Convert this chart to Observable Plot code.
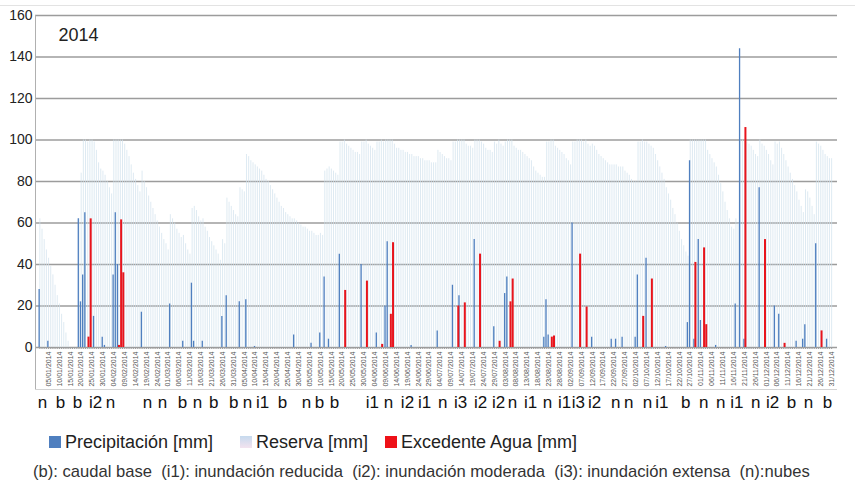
<!DOCTYPE html>
<html>
<head>
<meta charset="utf-8">
<script src="https://cdn.jsdelivr.net/npm/d3@7"></script>
<script src="https://cdn.jsdelivr.net/npm/@observablehq/plot@0.6"></script>
<style>
  body { margin: 0; background: #fff; font-family: "Liberation Sans", Arial, sans-serif; }
  #wrap { position: relative; width: 855px; height: 494px; overflow: hidden; }
  #topline { position: absolute; left: 0; top: 5px; width: 855px; height: 1px; background: #e3e3e3; }
  #chart { position: absolute; left: 0; top: 0; }
  #legend { position: absolute; left: 0; top: 432px; width: 855px; height: 20px; font-size: 18px; color: #222; white-space: nowrap; }
  #legend .item { position: absolute; top: 0; height: 20px; display: flex; align-items: center; }
  #legend .sw { width: 12px; height: 12px; margin-right: 4px; }
  #caption { position: absolute; left: 33px; top: 462px; font-size: 16.6px; line-height: 20px; color: #333; white-space: pre; }
</style>
</head>
<body>
<div id="wrap">
  <div id="topline"></div>
  <div id="chart"></div>
  <div id="legend"></div>
  <div id="caption"></div>
</div>
<script>
// Daily water balance, year 2014 (day-of-year 1..365)

// Reserva [mm], one value per day
const reserva = [
  62, 57, 52, 47, 43, 39, 35, 30, 25, 21,
  16, 12, 7, 3, 0, 0, 0, 0, 62, 84,
  100, 100, 99, 100, 100, 99, 95, 89, 86, 85,
  83, 80, 77, 74, 100, 100, 100, 100, 100, 98,
  95, 92, 88, 84, 81, 78, 75, 85, 80, 77,
  73, 70, 67, 64, 61, 58, 55, 52, 50, 47,
  64, 62, 60, 57, 55, 53, 54, 50, 47, 45,
  67, 68, 66, 63, 61, 62, 58, 56, 53, 51,
  49, 47, 45, 42, 52, 50, 72, 70, 68, 66,
  64, 63, 77, 76, 75, 93, 92, 90, 89, 88,
  87, 86, 85, 83, 81, 80, 78, 76, 74, 72,
  70, 68, 67, 65, 64, 63, 62, 62, 61, 60,
  59, 58, 58, 57, 56, 56, 55, 54, 54, 55,
  54, 85, 86, 87, 86, 85, 84, 83, 99, 99,
  100, 98, 97, 96, 95, 94, 94, 93, 99, 99,
  100, 98, 97, 96, 95, 99, 99, 100, 99, 100,
  100, 100, 100, 98, 96, 96, 95, 95, 94, 94,
  93, 93, 92, 92, 92, 91, 91, 90, 90, 90,
  89, 89, 89, 95, 94, 93, 92, 91, 91, 90,
  99, 99, 100, 100, 100, 100, 98, 97, 97, 96,
  100, 100, 100, 99, 98, 96, 95, 95, 94, 99,
  98, 100, 98, 97, 99, 100, 100, 100, 97, 96,
  95, 95, 94, 93, 92, 91, 90, 87, 85, 84,
  83, 82, 82, 99, 99, 100, 100, 97, 96, 95,
  94, 93, 91, 90, 88, 99, 99, 100, 100, 100,
  99, 100, 98, 97, 98, 97, 95, 93, 92, 91,
  90, 89, 88, 88, 88, 88, 87, 87, 87, 85,
  84, 83, 81, 80, 80, 99, 99, 100, 99, 99,
  98, 97, 96, 93, 90, 87, 84, 81, 77, 74,
  71, 67, 64, 60, 56, 52, 49, 46, 44, 100,
  100, 100, 100, 100, 100, 100, 100, 95, 93, 91,
  89, 87, 83, 79, 75, 70, 66, 62, 58, 57,
  62, 60, 100, 100, 100, 99, 98, 97, 95, 93,
  92, 100, 98, 97, 95, 93, 90, 88, 99, 98,
  99, 96, 93, 90, 87, 84, 81, 78, 75, 71,
  68, 65, 76, 75, 72, 68, 64, 99, 98, 97,
  95, 93, 92, 91, 91
];

// Precipitación [mm]: rainy days and amounts
const precipDays = [1, 5, 19, 20, 21, 22, 26, 30, 31, 35, 36, 37, 48, 61, 67, 71, 72, 76, 85, 87,
  93, 96, 100, 118, 126, 130, 132, 134, 139, 149, 156, 160, 161, 172, 184, 191, 194, 201, 210, 215,
  216, 233, 234, 235, 246, 255, 264, 266, 269, 275, 276, 280, 289, 299, 300, 302, 304, 305, 312, 321,
  323, 325, 332, 339, 341, 349, 352, 353, 358, 363];
const precipMm = [28, 3, 62, 22, 35, 65, 15, 5, 1, 35, 65, 40, 17, 21, 3, 31, 3, 3, 15, 25,
  22, 23, 0.5, 6, 2, 7, 34, 4, 45, 40, 7, 20, 51, 1, 8, 30, 25, 52, 10, 26,
  34, 5, 23, 6, 60, 5, 4, 4, 5, 5, 35, 43, 0.5, 12, 90, 4, 52, 13, 1, 21,
  144, 4, 77, 20, 16, 3, 4, 11, 50, 4];

// Excedente Agua [mm]
const excessDays = [23, 24, 37, 38, 39, 141, 151, 158, 162, 163, 193, 196, 203, 212, 217, 218,
  236, 237, 249, 252, 278, 282, 302, 306, 307, 325, 334, 343, 360];
const excessMm = [5, 62, 1, 61.5, 36, 27.5, 32, 1.5, 16, 50.5, 20, 21.5, 45, 3, 22, 33,
  5, 5.5, 45, 19.5, 15, 33, 41, 48, 11, 106, 52, 2, 8];

// Image classification codes along the year
const codeDays = [2.2, 10.5, 18.3, 26.6, 33.5, 50.5, 57.4, 66.6, 73.5, 80.9, 90.1, 96.5, 103.4, 112.6,
  123.6, 129.6, 136.5, 153.9, 161.3, 170, 177.9, 186.2, 194.4, 203.6, 211.9, 218.3, 226.6, 234.4,
  242.2, 248.6, 256, 265.7, 271.7, 280.4, 286.9, 297.9, 306.2, 314, 321.4, 330.1, 337.9, 346.6,
  354.4, 363.1];
const codes = ["n", "b", "b", "i2", "n", "n", "n", "b", "n", "b", "b", "n", "i1", "b",
  "n", "b", "b", "i1", "n", "i2", "i1", "n", "i3", "i2", "i2", "n", "i1", "n",
  "i1", "i3", "i2", "n", "n", "n", "i1", "b", "n", "n", "i1", "n", "i2", "b",
  "n", "b"];

const yTicks = [0, 20, 40, 60, 80, 100, 120, 140, 160];
const labelDays = d3.range(5, 366, 5);
const allDays = d3.range(1, 366);

const colors = {precip: "#4f7fbf", reserve: "#d0e1ec", excess: "#e8141c"};
const legendItems = [
  {label: "Precipitación [mm]", fill: "#4f7fbf", left: 49},
  {label: "Reserva [mm]", fill: "linear-gradient(#c6daee, #f3e3ef)", left: 240},
  {label: "Excedente Agua [mm]", fill: "#ee1118", left: 385}
];
const captionText = "(b): caudal base  (i1): inundación reducida  (i2): inundación moderada  (i3): inundación extensa  (n):nubes";

// Tables built from the arrays above
const reserveRows = reserva.map((v, i) => ({day: i + 1, value: v}));
const precipRows = precipDays.map((d, i) => ({day: d, value: precipMm[i]}));
const excessRows = excessDays.map((d, i) => ({day: d, value: excessMm[i]}));
const codeRows = codeDays.map((d, i) => ({day: d, code: codes[i]}));

const fmt = d3.utcFormat("%d/%m/%Y");
const dayLabel = d => fmt(new Date(Date.UTC(2014, 0, d)));

const chart = Plot.plot({
  width: 855,
  height: 415,
  marginTop: 15,
  marginBottom: 68,
  marginLeft: 35,
  marginRight: 18,
  style: {fontFamily: "'Liberation Sans', Arial, sans-serif", background: "transparent"},
  x: {type: "linear", domain: [-1, 367.7]},
  y: {domain: [0, 160]},
  marks: [
    Plot.ruleY(yTicks, {stroke: "#9c9c9c", strokeWidth: 1.3}),
    Plot.ruleX(reserveRows, {x: "day", y1: 0, y2: "value", stroke: colors.reserve, strokeWidth: 0.7}),
    Plot.ruleX(precipRows, {x: "day", y1: 0, y2: "value", stroke: colors.precip, strokeWidth: 1.3, dx: -0.7}),
    Plot.ruleX(excessRows, {x: "day", y1: 0, y2: "value", stroke: colors.excess, strokeWidth: 2, dx: 0.8}),
    Plot.axisY({ticks: yTicks, tickSize: 0, tickPadding: 3, fontSize: 14, color: "#222", label: null}),
    Plot.axisX({ticks: allDays, tickSize: 2, tickFormat: () => "", stroke: "#9c9c9c", label: null}),
    Plot.axisX({ticks: labelDays, tickFormat: dayLabel, tickRotate: -90, tickSize: 0, tickPadding: 4,
      fontSize: 7, color: "#555", label: null}),
    Plot.ruleX([-1], {stroke: "#b0b0b0", insetBottom: -42}),
    Plot.ruleY([0], {dy: 42, stroke: "#d4d4d4"}),
    Plot.text(codeRows, {x: "day", text: "code", frameAnchor: "bottom", lineAnchor: "middle", dy: 55,
      fontSize: 17, fill: "#111"}),
    Plot.text(["2014"], {frameAnchor: "top-left", lineAnchor: "middle", textAnchor: "start", dx: 23, dy: 20,
      fontSize: 18, fill: "#222"})
  ]
});
document.getElementById("chart").append(chart);

const legend = document.getElementById("legend");
legendItems.forEach(it => {
  const item = document.createElement("div");
  item.className = "item";
  item.style.left = it.left + "px";
  const sw = document.createElement("div");
  sw.className = "sw";
  sw.style.background = it.fill;
  const tx = document.createElement("span");
  tx.textContent = it.label;
  item.append(sw, tx);
  legend.append(item);
});
document.getElementById("caption").textContent = captionText;
</script>
</body>
</html>
